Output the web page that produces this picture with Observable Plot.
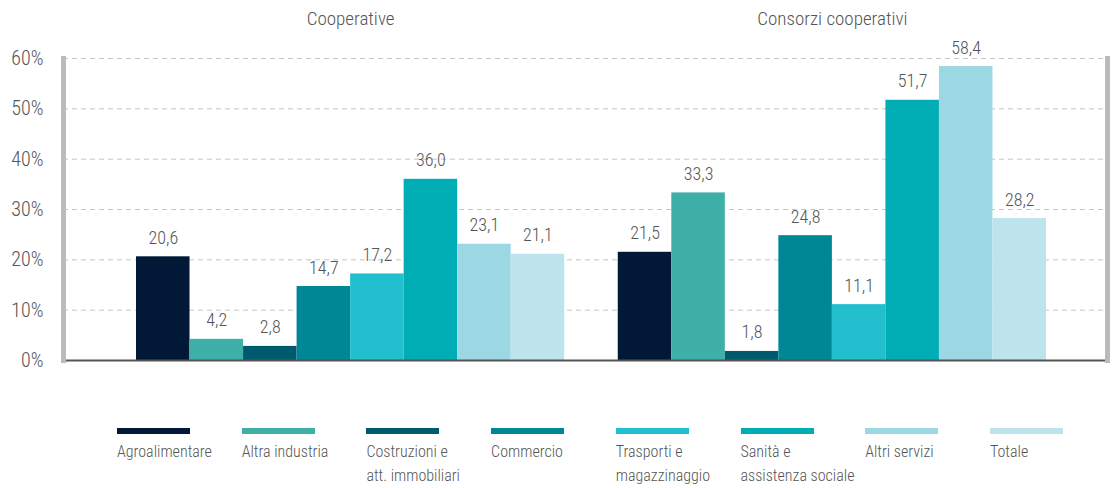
<!DOCTYPE html>
<html>
<head>
<meta charset="utf-8">
<script src="https://cdn.jsdelivr.net/npm/d3@7"></script>
<script src="https://cdn.jsdelivr.net/npm/@observablehq/plot@0.6"></script>
<style>
  body { margin: 0; background: #fff; font-family: "Roboto Condensed", "Liberation Sans Narrow", "DejaVu Sans Condensed", sans-serif; font-stretch: condensed; font-weight: 300; color: #555; }
  #legend { position: relative; height: 78px; }
  .item { position: absolute; top: 18px; font-size: 16px; line-height: 24px; color: #555; font-weight: 300; }
  .sw { width: 73px; height: 6px; margin-bottom: 6px; }
</style>
</head>
<body>
<div id="chart"></div>
<div id="legend"></div>
<script>
const groups = ["Cooperative", "Consorzi cooperativi"];
const sectors = ["Agroalimentare", "Altra industria", "Costruzioni e att. immobiliari", "Commercio", "Trasporti e magazzinaggio", "Sanità e assistenza sociale", "Altri servizi", "Totale"];
const legendLines = [["Agroalimentare"], ["Altra industria"], ["Costruzioni e", "att. immobiliari"], ["Commercio"], ["Trasporti e", "magazzinaggio"], ["Sanità e", "assistenza sociale"], ["Altri servizi"], ["Totale"]];
const colors = ["#011936", "#3eb0a7", "#005a6e", "#008796", "#22bfcf", "#00adb5", "#9bd8e3", "#bde3ec"];
const cooperative = [20.6, 4.2, 2.8, 14.7, 17.2, 36.0, 23.1, 21.1];
const consorzi = [21.5, 33.3, 1.8, 24.8, 11.1, 51.7, 58.4, 28.2];
const yTicks = [0, 10, 20, 30, 40, 50, 60];

const seriesByGroup = [cooperative, consorzi];
const data = [];
groups.forEach((g, gi) => sectors.forEach((s, si) => data.push({group: g, sector: s, key: g + "|" + s, value: seriesByGroup[gi][si]})));
const xDomain = [...sectors.map(s => groups[0] + "|" + s), "gap", ...sectors.map(s => groups[1] + "|" + s)];
const titles = groups.map(g => ({group: g, key: g + "|" + sectors[3]}));
const fmt = v => v.toFixed(1).replace(".", ",");
const font = '"Roboto Condensed", "Liberation Sans Narrow", "DejaVu Sans Condensed", sans-serif';

const chart = Plot.plot({
  width: 1112,
  height: 410,
  marginLeft: 63,
  marginRight: 5,
  marginTop: 58,
  marginBottom: 50,
  style: {fontFamily: font, fontStretch: "condensed", fontWeight: 300, color: "#555", background: "#fff"},
  x: {domain: xDomain, range: [136, 1046], padding: 0, round: false, axis: null},
  y: {domain: [0, 60], ticks: yTicks, tickFormat: d => d + "%", label: null},
  color: {domain: sectors, range: colors},
  marks: [
    Plot.gridY(yTicks.filter(d => d > 0), {stroke: "#c4c4c4", strokeOpacity: 1, strokeDasharray: "5,4"}),
    Plot.axisY(yTicks, {tickSize: 0, tickPadding: 20, fontSize: 20, fontWeight: 300, fill: "#555", tickFormat: d => d + "%", label: null}),
    Plot.barY(data, {x: "key", y: "value", fill: "sector", inset: 0}),
    Plot.text(data, {x: "key", y: "value", text: d => fmt(d.value), lineAnchor: "bottom", dy: -13, fontSize: 18, fontWeight: 300, fill: "#555"}),
    Plot.text(titles, {x: "key", text: "group", frameAnchor: "top", dx: 26.75, dy: -47, lineAnchor: "top", fontSize: 19, fontWeight: 300, fill: "#555"}),
    Plot.ruleY([0], {stroke: "#555", strokeWidth: 2}),
    Plot.frame({anchor: "left", stroke: "#bbb", strokeWidth: 5}),
    Plot.frame({anchor: "right", stroke: "#bbb", strokeWidth: 5})
  ]
});
document.getElementById("chart").appendChild(chart);

const legend = document.getElementById("legend");
sectors.forEach((s, i) => {
  const item = document.createElement("div");
  item.className = "item";
  item.style.left = (117 + i * 124.7) + "px";
  const sw = document.createElement("div");
  sw.className = "sw";
  sw.style.background = colors[i];
  item.appendChild(sw);
  legendLines[i].forEach(line => {
    const t = document.createElement("div");
    t.textContent = line;
    item.appendChild(t);
  });
  legend.appendChild(item);
});
</script>
</body>
</html>
